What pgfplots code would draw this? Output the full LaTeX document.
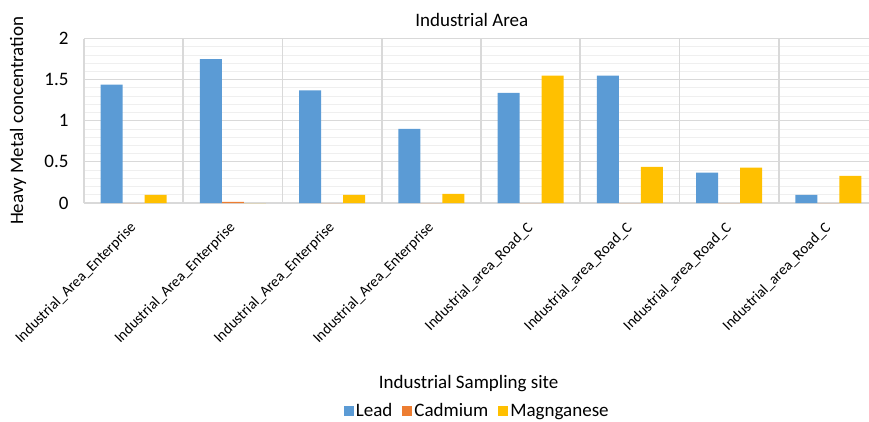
\documentclass[border=0pt]{standalone}
\usepackage{pgfplots}
\pgfplotsset{compat=1.18}
\usepackage{fontspec}
\setmainfont{Carlito}
\definecolor{lead}{HTML}{5B9BD5}
\definecolor{cad}{HTML}{ED7D31}
\definecolor{mang}{HTML}{FFC000}
\definecolor{gridmaj}{HTML}{D9D9D9}
\definecolor{gridmin}{HTML}{EFEFEF}
\pgfplotsset{sqlegend/.style={legend image code/.code={\fill[##1] (-4pt,-5pt) rectangle (6pt,5pt);}}}
\begin{document}
\begin{tikzpicture}
\useasboundingbox (0pt,0pt) rectangle (869pt,421pt);
\begin{axis}[
  at={(84pt,218pt)}, anchor=south west,
  scale only axis, width=785pt, height=164.5pt,
  xmin=-0.5, xmax=7.409, ymin=0, ymax=2,
  enlarge x limits=false,
  ybar=0pt, bar width=0.2216,
  axis line style={draw=none},
  major tick length=0pt, minor tick length=0pt,
  ytick={0,0.5,1,1.5,2}, minor y tick num=4,
  ymajorgrids, yminorgrids,
  major grid style={gridmaj, line width=1.2pt},
  minor grid style={gridmin, line width=0.8pt},
  xtick={0,1,2,3,4,5,6,7},
  xticklabels={Industrial\_Area\_Enterprise,Industrial\_Area\_Enterprise,Industrial\_Area\_Enterprise,Industrial\_Area\_Enterprise,Industrial\_area\_Road\_C,Industrial\_area\_Road\_C,Industrial\_area\_Road\_C,Industrial\_area\_Road\_C},
  extra x ticks={-0.5,0.5,1.5,2.5,3.5,4.5,5.5,6.5},
  extra x tick labels={},
  extra x tick style={grid=major, major grid style={gridmaj, line width=1.8pt}},
  xticklabel style={xshift=2.5pt, yshift=-20pt, rotate=45, anchor=east, font=\fontsize{15}{18}\selectfont},
  yticklabel style={font=\fontsize{19}{23}\selectfont, xshift=-12pt},
  /pgf/number format/assume math mode=true,
  title={Industrial Area},
  title style={at={(axis description cs:0.494,1.075)}, anchor=center, font=\fontsize{19}{23}\selectfont},
  xlabel={Industrial Sampling site},
  xlabel style={at={(axis description cs:0.49,-1.100)}, anchor=center, font=\fontsize{19}{23}\selectfont},
  ylabel={Heavy Metal concentration},
  ylabel style={at={(axis description cs:-0.084,0.5)}, anchor=center, rotate=0, font=\fontsize{19}{23}\selectfont},
  legend columns=-1,
  legend style={at={(axis description cs:0.501,-1.264)}, anchor=center, draw=none, fill=none,
    font=\fontsize{19}{23}\selectfont,
    /tikz/every even column/.append style={column sep=8pt}},
]
\addplot[fill=lead, draw=none, sqlegend] coordinates {(0,1.44) (1,1.75) (2,1.37) (3,0.90) (4,1.34) (5,1.55) (6,0.37) (7,0.10)};
\addplot[fill=cad, draw=none, sqlegend] coordinates {(0,0) (1,0.015) (2,0) (3,0) (4,0) (5,0) (6,0) (7,0)};
\addplot[fill=mang, draw=none, sqlegend] coordinates {(0,0.10) (1,0) (2,0.10) (3,0.11) (4,1.55) (5,0.44) (6,0.43) (7,0.33)};
\legend{Lead,Cadmium,Magnganese}
\end{axis}
\end{tikzpicture}
\end{document}
